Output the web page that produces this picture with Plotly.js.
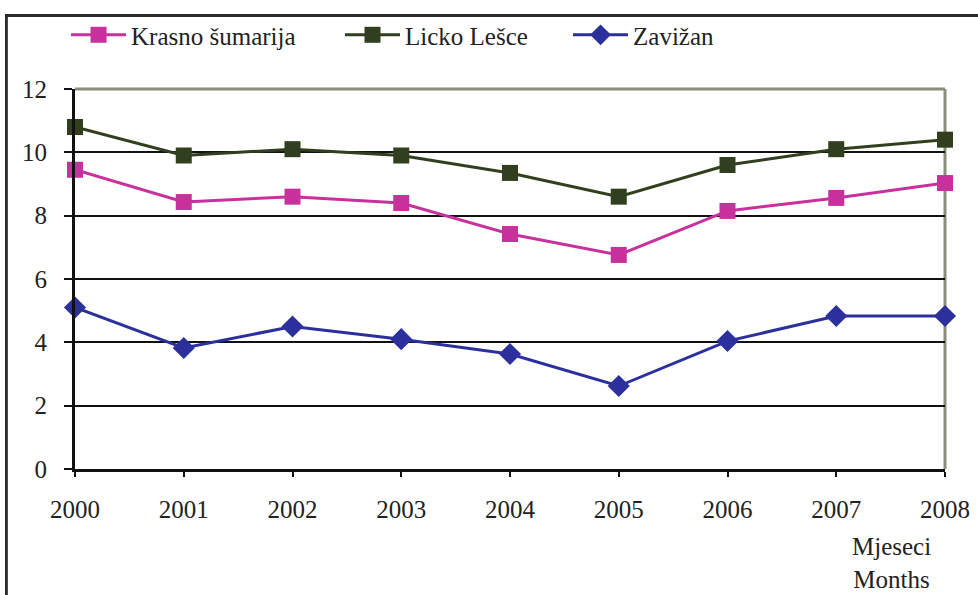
<!DOCTYPE html>
<html><head><meta charset="utf-8">
<script src="https://cdn.plot.ly/plotly-3.0.1.min.js"></script>
<style>body{margin:0;background:#fff}#chart{width:978px;height:595px}</style>
</head><body><div id="chart"></div>
<script>
const years = [2000, 2001, 2002, 2003, 2004, 2005, 2006, 2007, 2008];
const yTicks = [0, 2, 4, 6, 8, 10, 12];
const krasno = [9.45, 8.43, 8.6, 8.4, 7.42, 6.76, 8.15, 8.56, 9.03];
const licko = [10.8, 9.9, 10.1, 9.9, 9.35, 8.6, 9.6, 10.1, 10.4];
const zavizan = [5.1, 3.82, 4.5, 4.1, 3.63, 2.62, 4.04, 4.83, 4.83];
const names = ["Krasno šumarija", "Licko Lešce", "Zavižan"];

const font = {family: "Liberation Serif", size: 25, color: "#222"};

const traces = [
  {x: years, y: krasno, name: names[0], mode: "lines+markers", legend: "legend",
   line: {color: "#c8319c", width: 3}, marker: {symbol: "square", size: 16, color: "#c8319c"}, cliponaxis: false},
  {x: years, y: licko, name: names[1], mode: "lines+markers", legend: "legend2",
   line: {color: "#323f1e", width: 3}, marker: {symbol: "square", size: 16, color: "#323f1e"}, cliponaxis: false},
  {x: years, y: zavizan, name: names[2], mode: "lines+markers", legend: "legend3",
   line: {color: "#2c309c", width: 3}, marker: {symbol: "diamond", size: 17, color: "#2c309c"}, cliponaxis: false}
];

function leg(x) {
  return {x: x, xref: "paper", y: 1.142, yref: "paper", yanchor: "middle", xanchor: "left",
    orientation: "h", font: font, itemwidth: 55, bgcolor: "rgba(255,255,255,0)", borderwidth: 0};
}

const layout = {
  width: 978, height: 595,
  margin: {l: 75, r: 33, t: 89, b: 126, autoexpand: false},
  paper_bgcolor: "#fff", plot_bgcolor: "#fff",
  font: font,
  showlegend: true,
  legend: leg(-0.0103),
  legend2: leg(0.3046),
  legend3: leg(0.5667),
  xaxis: {range: [2000, 2008], tickvals: years, ticktext: years.map(String),
    showgrid: false, zeroline: false, showline: true, linecolor: "#111", linewidth: 3,
    ticks: "outside", ticklen: 5, tickwidth: 2, tickcolor: "#111", tickfont: font,
    ticklabelstandoff: 11},
  yaxis: {range: [0, 12], tickvals: yTicks, ticktext: yTicks.map(String),
    showgrid: true, gridcolor: "#111", gridwidth: 2, zeroline: false,
    showline: true, linecolor: "#111", linewidth: 3,
    ticks: "outside", ticklen: 8, tickwidth: 2, tickcolor: "#111", tickfont: font, ticklabelstandoff: 12},
  shapes: [
    {type: "line", xref: "paper", yref: "paper", x0: 0, x1: 1, y0: 1, y1: 1, line: {color: "#8c8c78", width: 3}, layer: "below"},
    {type: "line", xref: "paper", yref: "paper", x0: 1, x1: 1, y0: 0, y1: 1, line: {color: "#8c8c78", width: 3}, layer: "below"},
    {type: "rect", xref: "paper", yref: "paper", x0: -0.0795, x1: 1.04, y0: 1.1895, y1: 1.1947,
     line: {width: 0}, fillcolor: "#2a2a2a", layer: "above"},
    {type: "rect", xref: "paper", yref: "paper", x0: -0.0795, x1: -0.0772, y0: -0.4, y1: 1.1947,
     line: {width: 0}, fillcolor: "#2a2a2a", layer: "above"}
  ],
  annotations: [
    {xref: "paper", yref: "paper", x: 0.939, y: -0.163, xanchor: "center", yanchor: "top",
     text: "Mjeseci<br>Months", showarrow: false, align: "center", font: font},
    {xref: "paper", yref: "paper", x: -0.08, y: 1.197, xanchor: "left", yanchor: "top",
     text: " ", showarrow: false, width: 1000, height: 620, borderpad: 0,
     bordercolor: "#2a2a2a", borderwidth: 2, bgcolor: "rgba(255,255,255,0)"}
  ]
};

Plotly.newPlot("chart", traces, layout, {displayModeBar: false, staticPlot: true});
</script></body></html>
